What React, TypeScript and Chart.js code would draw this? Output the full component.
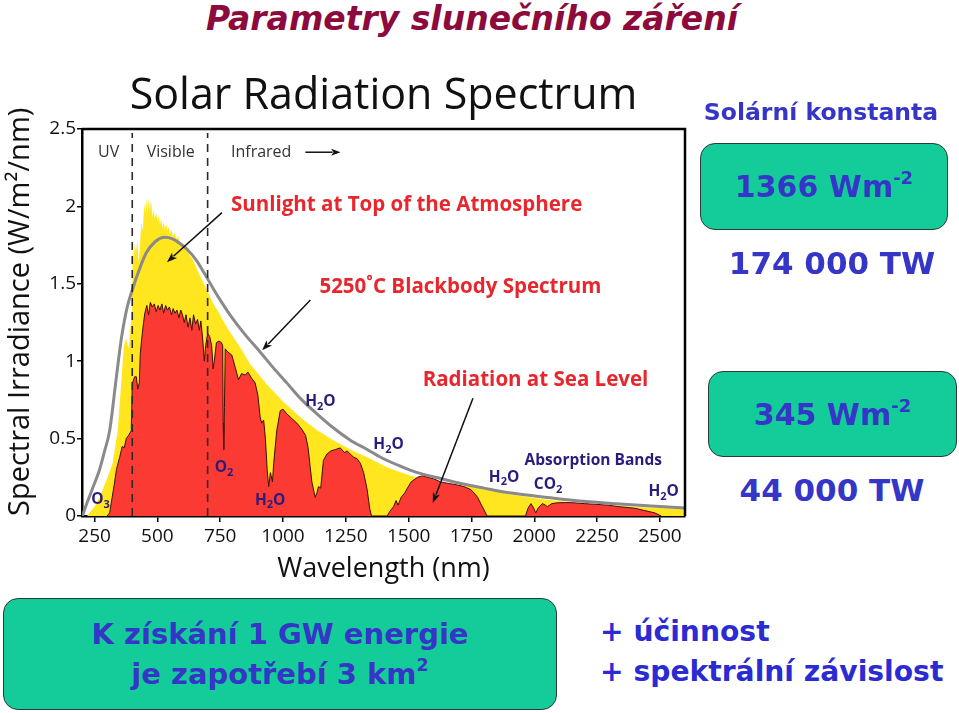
import React, { useEffect, useRef } from "react";
import { Chart, registerables } from "chart.js";

Chart.register(...registerables);

// ---------- data ----------
const xTickValues = [250, 500, 750, 1000, 1250, 1500, 1750, 2000, 2250, 2500];
const yTickValues = [0, 0.5, 1, 1.5, 2, 2.5];
const regionBounds = [400, 700];

// Sunlight at top of the atmosphere (yellow)
const toaWavelength = [220, 250, 270, 297, 322, 342, 357, 366, 375, 385, 392, 398, 402, 406, 410, 415, 420, 425, 430, 436, 442, 448, 452, 458, 462, 466, 470, 475, 480, 485, 490, 495, 500, 505, 510, 515, 520, 525, 530, 535, 540, 545, 550, 556, 562, 568, 575, 582, 590, 600, 610, 620, 630, 640, 656, 670, 685, 700, 720, 749, 780, 801, 829, 870, 936, 1000, 1068, 1130, 1200, 1268, 1335, 1420, 1508, 1600, 1700, 1760, 1900, 2027, 2160, 2293, 2450, 2600];
const toaIrradiance = [0, 0.06, 0.12, 0.23, 0.34, 0.55, 0.88, 1.09, 1.15, 1.08, 1.2, 1.3, 1.72, 1.66, 1.76, 1.7, 1.78, 1.64, 1.72, 1.9, 1.84, 2.02, 1.95, 2.05, 1.96, 2.06, 1.97, 2.04, 1.93, 1.98, 1.92, 1.96, 1.9, 1.94, 1.88, 1.92, 1.86, 1.9, 1.85, 1.89, 1.84, 1.87, 1.82, 1.85, 1.8, 1.83, 1.79, 1.81, 1.77, 1.76, 1.73, 1.71, 1.68, 1.66, 1.6, 1.55, 1.5, 1.45, 1.38, 1.3, 1.21, 1.16, 1.09, 0.98, 0.85, 0.74, 0.64, 0.56, 0.49, 0.43, 0.38, 0.31, 0.26, 0.225, 0.2, 0.185, 0.14, 0.11, 0.085, 0.07, 0.055, 0.045];

// Radiation at sea level (red)
const seaWavelength = [300, 310, 320, 330, 337, 350, 360, 368, 376, 385, 396, 400, 405, 410, 416, 422, 428, 432, 438, 445, 450, 458, 465, 472, 480, 488, 495, 503, 510, 518, 525, 533, 540, 548, 556, 563, 570, 578, 586, 593, 600, 607, 614, 622, 630, 637, 644, 652, 660, 667, 673, 680, 687, 692, 700, 708, 716, 722, 728, 735, 745, 755, 760, 762, 764, 767, 770, 780, 796, 810, 823, 835, 850, 860, 875, 889, 900, 909, 915, 923, 930, 937, 943, 950, 958, 963, 975, 989, 1000, 1015, 1035, 1055, 1075, 1090, 1100, 1108, 1115, 1128, 1135, 1141, 1150, 1161, 1175, 1190, 1210, 1228, 1245, 1255, 1268, 1281, 1295, 1308, 1321, 1335, 1345, 1352, 1415, 1425, 1440, 1450, 1458, 1470, 1485, 1495, 1510, 1535, 1555, 1575, 1600, 1628, 1660, 1695, 1720, 1748, 1765, 1775, 1790, 1800, 1812, 1965, 1975, 1987, 1998, 2006, 2015, 2032, 2045, 2052, 2070, 2092, 2125, 2158, 2200, 2250, 2293, 2340, 2400, 2440, 2480, 2505];
const seaIrradiance = [0, 0.02, 0.12, 0.22, 0.3, 0.38, 0.45, 0.44, 0.5, 0.52, 0.55, 0.85, 0.88, 0.9, 0.9, 0.82, 0.86, 1.05, 1.15, 1.25, 1.31, 1.36, 1.3, 1.38, 1.35, 1.37, 1.32, 1.36, 1.33, 1.37, 1.31, 1.36, 1.33, 1.35, 1.3, 1.34, 1.31, 1.33, 1.28, 1.33, 1.3, 1.25, 1.3, 1.22, 1.28, 1.2, 1.3, 1.24, 1.27, 1.2, 1.26, 1.15, 1.0, 1.1, 1.18, 1.16, 1.1, 0.95, 1.02, 1.12, 1.13, 1.12, 1.1, 0.6, 0.43, 0.7, 1.08, 1.06, 1.04, 0.96, 0.88, 0.92, 0.91, 0.93, 0.89, 0.86, 0.78, 0.64, 0.6, 0.62, 0.5, 0.3, 0.19, 0.28, 0.22, 0.34, 0.55, 0.68, 0.69, 0.66, 0.63, 0.6, 0.56, 0.52, 0.44, 0.32, 0.22, 0.12, 0.15, 0.19, 0.18, 0.36, 0.4, 0.42, 0.43, 0.44, 0.41, 0.42, 0.4, 0.38, 0.37, 0.34, 0.28, 0.17, 0.05, 0, 0, 0.03, 0.06, 0.1, 0.07, 0.12, 0.15, 0.18, 0.22, 0.25, 0.26, 0.25, 0.24, 0.22, 0.21, 0.2, 0.19, 0.17, 0.14, 0.12, 0.07, 0.04, 0, 0, 0.05, 0.08, 0.05, 0.02, 0.05, 0.08, 0.07, 0.06, 0.08, 0.085, 0.087, 0.085, 0.08, 0.075, 0.07, 0.06, 0.05, 0.035, 0.02, 0];

// 5250 °C blackbody spectrum (gray)
const bbWavelength = [202, 210, 240, 270, 290, 310, 337, 357, 380, 402, 430, 456, 490, 530, 560, 590, 620, 656, 690, 722, 760, 789, 850, 909, 960, 1015, 1075, 1135, 1200, 1268, 1335, 1400, 1470, 1535, 1620, 1708, 1800, 1900, 2027, 2160, 2293, 2450, 2600];
const bbIrradiance = [0, 0.04, 0.17, 0.3, 0.42, 0.55, 0.9, 1.15, 1.35, 1.47, 1.6, 1.7, 1.77, 1.8, 1.79, 1.76, 1.72, 1.65, 1.56, 1.47, 1.37, 1.3, 1.17, 1.06, 0.96, 0.86, 0.75, 0.66, 0.57, 0.49, 0.43, 0.37, 0.32, 0.28, 0.245, 0.21, 0.18, 0.15, 0.125, 0.1, 0.083, 0.066, 0.052];

// annotation labels: [text parts, wavelength, irradiance]
type Part = [string, boolean];
const bandLabels: [Part[], number, number][] = [
  [[["O", false], ["3", true]], 274, 0.103],
  [[["O", false], ["2", true]], 765, 0.31],
  [[["H", false], ["2", true], ["O", false]], 949, 0.1],
  [[["H", false], ["2", true], ["O", false]], 1149, 0.736],
  [[["H", false], ["2", true], ["O", false]], 1420, 0.46],
  [[["H", false], ["2", true], ["O", false]], 1880, 0.25],
  [[["C", false], ["O", false], ["2", true]], 2055, 0.2],
  [[["H", false], ["2", true], ["O", false]], 2515, 0.155],
  [[["Absorption Bands", false]], 2235, 0.355],
];
const regionLabels: [string, number][] = [["UV", 306], ["Visible", 553]];

const pairs = (xs: number[], ys: number[]) => xs.map((x, i) => ({ x, y: ys[i] }));

function drawArrow(ctx: CanvasRenderingContext2D, x1: number, y1: number, x2: number, y2: number, head = 11) {
  const ang = Math.atan2(y2 - y1, x2 - x1);
  ctx.beginPath();
  ctx.moveTo(x1, y1);
  ctx.lineTo(x2 - Math.cos(ang) * head * 0.8, y2 - Math.sin(ang) * head * 0.8);
  ctx.stroke();
  ctx.beginPath();
  ctx.moveTo(x2, y2);
  ctx.lineTo(x2 - head * Math.cos(ang - 0.35), y2 - head * Math.sin(ang - 0.35));
  ctx.lineTo(x2 - head * 0.7 * Math.cos(ang), y2 - head * 0.7 * Math.sin(ang));
  ctx.lineTo(x2 - head * Math.cos(ang + 0.35), y2 - head * Math.sin(ang + 0.35));
  ctx.closePath();
  ctx.fill();
}

function drawParts(ctx: CanvasRenderingContext2D, parts: Part[], cx: number, cy: number, size: number) {
  const main = `bold ${size}px "Open Sans", sans-serif`;
  const sub = `bold ${Math.round(size * 0.72)}px "Open Sans", sans-serif`;
  let w = 0;
  for (const [t, s] of parts) {
    ctx.font = s ? sub : main;
    w += ctx.measureText(t).width;
  }
  let x = cx - w / 2;
  ctx.textAlign = "left";
  ctx.textBaseline = "middle";
  for (const [t, s] of parts) {
    ctx.font = s ? sub : main;
    ctx.fillText(t, x, s ? cy + size * 0.3 : cy);
    x += ctx.measureText(t).width;
  }
}

const overlayPlugin = {
  id: "overlay",
  afterDatasetsDraw(chart: any) {
    const { ctx, chartArea: a, scales } = chart;
    const px = (v: number) => scales.x.getPixelForValue(v);
    const py = (v: number) => scales.y.getPixelForValue(v);
    ctx.save();

    // region separators
    ctx.setLineDash([8, 6]);
    ctx.strokeStyle = "#2a2a2a";
    ctx.lineWidth = 1.6;
    for (const b of regionBounds) {
      ctx.beginPath();
      ctx.moveTo(px(b), a.bottom);
      ctx.lineTo(px(b), a.top + 4);
      ctx.stroke();
    }
    ctx.setLineDash([]);

    // frame top/right
    ctx.strokeStyle = "#000";
    ctx.lineWidth = 2.5;
    ctx.beginPath();
    ctx.moveTo(a.left, a.top);
    ctx.lineTo(a.right, a.top);
    ctx.lineTo(a.right, a.bottom);
    ctx.stroke();

    // region labels
    ctx.fillStyle = "#333";
    ctx.font = '16px "Open Sans", sans-serif';
    ctx.textBaseline = "middle";
    ctx.textAlign = "center";
    const ry = py(2.35);
    for (const [t, w] of regionLabels) ctx.fillText(t, px(w), ry);
    ctx.textAlign = "left";
    ctx.fillText("Infrared", px(793), ry);
    ctx.strokeStyle = "#111";
    ctx.fillStyle = "#111";
    ctx.lineWidth = 1.5;
    drawArrow(ctx, px(1089), ry, px(1229), ry, 10);

    // series labels
    ctx.fillStyle = "#e8262d";
    ctx.font = 'bold 20.5px "Open Sans", sans-serif';
    ctx.textAlign = "left";
    ctx.fillText("Sunlight at Top of the Atmosphere", px(793), py(2.01));
    ctx.fillText("5250˚C Blackbody Spectrum", px(1145), py(1.48));
    ctx.fillText("Radiation at Sea Level", px(1556), py(0.88));

    ctx.strokeStyle = "#111";
    ctx.fillStyle = "#111";
    ctx.lineWidth = 1.5;
    drawArrow(ctx, px(757), py(1.96), px(538), py(1.64));
    drawArrow(ctx, px(1109), py(1.395), px(917), py(1.07));
    drawArrow(ctx, px(1756), py(0.76), px(1596), py(0.084));

    // absorption band labels
    ctx.fillStyle = "#2b1b7c";
    for (const [parts, w, v] of bandLabels) drawParts(ctx, parts, px(w), py(v), 15.5);

    // chart title
    ctx.fillStyle = "#111";
    ctx.font = '43px "Open Sans", sans-serif';
    ctx.textAlign = "center";
    ctx.textBaseline = "middle";
    ctx.fillText("Solar Radiation Spectrum", (a.left + a.right) / 2, a.top - 32);

    ctx.restore();
  },
};

function SpectrumChart() {
  const ref = useRef<HTMLCanvasElement | null>(null);
  useEffect(() => {
    if (!ref.current) return;
    const chart = new Chart(ref.current, {
      type: "line",
      data: {
        datasets: [
          {
            label: "5250 °C Blackbody Spectrum",
            data: pairs(bbWavelength, bbIrradiance),
            borderColor: "#8a8a8a",
            borderWidth: 3,
            pointRadius: 0,
            fill: false,
            cubicInterpolationMode: "monotone",
            order: 0,
          },
          {
            label: "Radiation at Sea Level",
            data: pairs(seaWavelength, seaIrradiance),
            borderColor: "#3a0f0a",
            borderWidth: 1,
            backgroundColor: "#fb3a33",
            pointRadius: 0,
            fill: "origin",
            tension: 0,
            order: 1,
          },
          {
            label: "Sunlight at Top of the Atmosphere",
            data: pairs(toaWavelength, toaIrradiance),
            borderColor: "rgba(0,0,0,0)",
            borderWidth: 0,
            backgroundColor: "#ffe61e",
            pointRadius: 0,
            fill: "origin",
            tension: 0,
            order: 2,
          },
        ],
      },
      options: {
        animation: false,
        responsive: false,
        devicePixelRatio: 1,
        layout: { padding: { top: 69, right: 7, left: 2, bottom: 0 } },
        plugins: { legend: { display: false }, tooltip: { enabled: false }, title: { display: false } },
        scales: {
          x: {
            type: "linear",
            min: 200,
            max: 2600,
            afterBuildTicks: (s: any) => {
              s.ticks = xTickValues.map((v) => ({ value: v }));
            },
            afterFit: (s: any) => {
              s.height = 74;
            },
            border: { display: true, color: "#000", width: 2.5 },
            grid: { drawOnChartArea: false, drawTicks: true, tickLength: 6, color: "#000", lineWidth: 1.5 },
            ticks: { color: "#111", font: { family: "Open Sans", size: 19 }, padding: 3, maxRotation: 0, autoSkip: false, callback: (v: any) => String(v) },
            title: { display: true, text: "Wavelength (nm)", color: "#111", font: { family: "Open Sans", size: 27 }, padding: { top: 4, bottom: 4 } },
          },
          y: {
            type: "linear",
            min: 0,
            max: 2.5,
            afterBuildTicks: (s: any) => {
              s.ticks = yTickValues.map((v) => ({ value: v }));
            },
            afterFit: (s: any) => {
              s.width = 80;
            },
            border: { display: true, color: "#000", width: 2.5 },
            grid: { drawOnChartArea: false, drawTicks: true, tickLength: 5, color: "#000", lineWidth: 1.5 },
            ticks: { color: "#111", font: { family: "Open Sans", size: 19 }, padding: 1, callback: (v: any) => String(v) },
            title: { display: true, align: "start", text: "Spectral Irradiance (W/m²/nm)", color: "#111", font: { family: "Open Sans", size: 29 }, padding: { top: 1, bottom: 4 } },
          },
        },
      },
      plugins: [overlayPlugin],
    } as any);
    return () => chart.destroy();
  }, []);
  return <canvas ref={ref} width={692} height={530} style={{ position: "absolute", left: 0, top: 60, width: 692, height: 530 }} />;
}

const blue = "#3535c8";
const font = '"DejaVu Sans", sans-serif';
const boxStyle: React.CSSProperties = {
  position: "absolute",
  background: "#14cc9a",
  border: "1.5px solid #2b3b33",
  borderRadius: 15,
  boxSizing: "border-box",
  display: "flex",
  alignItems: "center",
  justifyContent: "center",
  color: blue,
  fontFamily: font,
  fontWeight: "bold",
};
const sup: React.CSSProperties = { fontSize: "0.6em", verticalAlign: "0.75em", lineHeight: 0 };

export default function App() {
  return (
    <div style={{ position: "absolute", left: 0, top: 0, width: 959, height: 713, background: "#fff", overflow: "hidden" }}>
      <div
        style={{
          position: "absolute",
          left: 172,
          width: 600,
          top: 0,
          textAlign: "center",
          fontFamily: font,
          fontWeight: "bold",
          fontStyle: "italic",
          fontSize: 33,
          lineHeight: "38px",
          color: "#8c0a3c",
          whiteSpace: "nowrap",
        }}
      >
        Parametry slunečního záření
      </div>

      <SpectrumChart />

      <div style={{ position: "absolute", left: 691, width: 260, top: 96, textAlign: "center", color: blue, fontFamily: font, fontWeight: "bold", fontSize: 23.5, lineHeight: "32px", whiteSpace: "nowrap" }}>
        Solární konstanta
      </div>
      <div style={{ ...boxStyle, left: 700, top: 143, width: 248, height: 87, fontSize: 30 }}>
        <span>
          1366 Wm<span style={sup}>-2</span>
        </span>
      </div>
      <div style={{ position: "absolute", left: 712, width: 240, top: 243, textAlign: "center", color: blue, fontFamily: font, fontWeight: "bold", fontSize: 31, lineHeight: "40px", whiteSpace: "nowrap" }}>
        174 000 TW
      </div>

      <div style={{ ...boxStyle, left: 708, top: 371, width: 249, height: 86, fontSize: 30 }}>
        <span>
          345 Wm<span style={sup}>-2</span>
        </span>
      </div>
      <div style={{ position: "absolute", left: 712, width: 240, top: 470, textAlign: "center", color: blue, fontFamily: font, fontWeight: "bold", fontSize: 31, lineHeight: "40px", whiteSpace: "nowrap" }}>
        44 000 TW
      </div>

      <div style={{ ...boxStyle, left: 3, top: 598, width: 554, height: 112, fontSize: 29, textAlign: "center", flexDirection: "column" }}>
        <div style={{ lineHeight: "40px" }}>K získání 1 GW energie</div>
        <div style={{ lineHeight: "40px" }}>
          je zapotřebí 3 km<span style={sup}>2</span>
        </div>
      </div>

      <div style={{ position: "absolute", left: 600, top: 612, color: "#2b2bd4", fontFamily: font, fontWeight: "bold", fontSize: 28.2, lineHeight: "40px", whiteSpace: "nowrap" }}>
        <div>+ účinnost</div>
        <div>+ spektrální závislost</div>
      </div>
    </div>
  );
}
